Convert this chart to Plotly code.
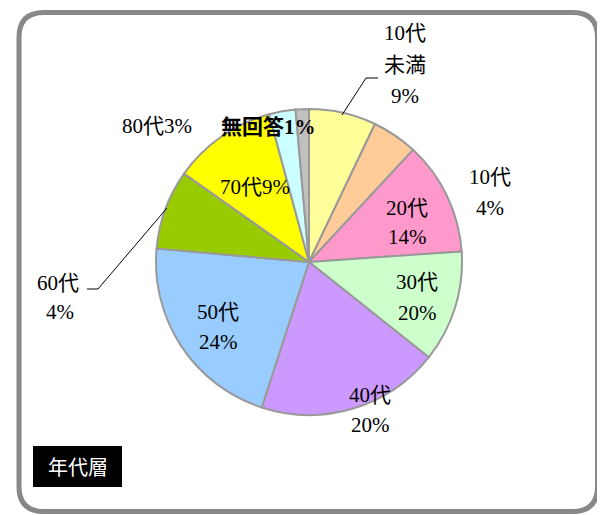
import plotly.graph_objects as go

W, H = 605, 515
OFF = 8  # page body margin

# ---- data ----
categories = ["10代未満", "10代", "20代", "30代", "40代", "50代", "60代", "70代", "80代", "無回答"]
slice_values = [7.1, 4.8, 12.0, 11.8, 19.3, 21.4, 8.4, 11.0, 2.8, 1.4]
pct_labels = ["9%", "4%", "14%", "20%", "20%", "24%", "4%", "9%", "3%", "1%"]
colors = ["#FFFF99", "#FFCC99", "#FF99CC", "#CCFFCC", "#CC99FF",
          "#99CCFF", "#99CC00", "#FFFF00", "#CCFFFF", "#C0C0C0"]
title_text = "年代層"

FW, FH = W - OFF, H - OFF


def px(x):
    return (x - OFF) / FW


def py(y):
    return 1 - (y - OFF) / FH


FONT = "Liberation Serif, 'Noto Sans CJK JP', serif"

fig = go.Figure(go.Pie(
    labels=categories,
    values=slice_values,
    sort=False,
    direction="clockwise",
    rotation=0,
    textinfo="none",
    hoverinfo="label+percent",
    marker=dict(colors=colors, line=dict(color="#999999", width=2)),
    domain=dict(x=[px(156), px(462)], y=[py(415), py(109)]),
    showlegend=False,
))

annotations = []


def add_text(x, y, text, size=21, bold=False):
    if bold:
        text = "<b>" + text + "</b>"
    annotations.append(dict(
        x=px(x), y=py(y), xref="paper", yref="paper", text=text,
        showarrow=False, xanchor="center", yanchor="middle",
        font=dict(family=FONT, size=size, color="#000000")))


add_text(405, 33, "10代")
add_text(405, 65, "未満")
add_text(405, 96, pct_labels[0])
add_text(490, 177, categories[1])
add_text(490, 208, pct_labels[1])
add_text(407, 208, categories[2])
add_text(407, 237, pct_labels[2])
add_text(417, 282, categories[3])
add_text(417, 313, pct_labels[3])
add_text(370, 395, categories[4])
add_text(370, 425, pct_labels[4])
add_text(218, 312, categories[5])
add_text(218, 342, pct_labels[5])
add_text(58, 283, categories[6])
add_text(60, 312, pct_labels[6])
add_text(255, 187, categories[7] + pct_labels[7])
add_text(157, 126, categories[8] + pct_labels[8])
add_text(268, 127, categories[9] + pct_labels[9], bold=True)

# title box text
annotations.append(dict(
    x=px(77.5), y=py(466.5), xref="paper", yref="paper", text=title_text,
    showarrow=False, xanchor="center", yanchor="middle",
    font=dict(family="'Noto Sans CJK JP', sans-serif", size=20, color="#FFFFFF")))

shapes = []
# leader lines
shapes.append(dict(type="path", xref="paper", yref="paper",
                   path=f"M {px(342)},{py(115)} L {px(366)},{py(78)} L {px(378)},{py(78)}",
                   line=dict(color="#000000", width=1)))
shapes.append(dict(type="path", xref="paper", yref="paper",
                   path=f"M {px(167)},{py(208)} L {px(98)},{py(289)} L {px(87)},{py(289)}",
                   line=dict(color="#000000", width=1)))

# rounded outer border
x0, x1, y0, y1, r = 19, 597.5, 12.5, 511.5, 25
path = (f"M {px(x0 + r)},{py(y0)} L {px(x1 - r)},{py(y0)} "
        f"Q {px(x1)},{py(y0)} {px(x1)},{py(y0 + r)} "
        f"L {px(x1)},{py(y1 - r)} Q {px(x1)},{py(y1)} {px(x1 - r)},{py(y1)} "
        f"L {px(x0 + r)},{py(y1)} Q {px(x0)},{py(y1)} {px(x0)},{py(y1 - r)} "
        f"L {px(x0)},{py(y0 + r)} Q {px(x0)},{py(y0)} {px(x0 + r)},{py(y0)} Z")
shapes.append(dict(type="path", xref="paper", yref="paper", path=path,
                   line=dict(color="#888888", width=5), layer="below"))

# title box
shapes.append(dict(type="rect", xref="paper", yref="paper",
                   x0=px(33), x1=px(122), y0=py(487), y1=py(446),
                   fillcolor="#000000", line=dict(width=0)))

fig.update_layout(
    width=FW, height=FH,
    margin=dict(l=0, r=0, t=0, b=0),
    paper_bgcolor="#FFFFFF",
    plot_bgcolor="#FFFFFF",
    annotations=annotations,
    shapes=shapes,
)

fig.write_html("out.html")
